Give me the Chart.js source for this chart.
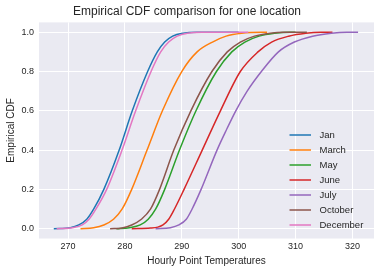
<!DOCTYPE html>
<html><head><meta charset="utf-8">
<script src="https://cdn.jsdelivr.net/npm/chart.js@4/dist/chart.umd.min.js"></script>
<style>html,body{margin:0;padding:0;background:#fff;}</style>
</head><body>
<canvas id="c" width="380" height="274"></canvas>
<script>
const categories = ['Jan','March','May','June','July','October','December'];
const seriesColors = ['#1f77b4','#ff7f0e','#2ca02c','#d62728','#9467bd','#8c564b','#e377c2'];

const janTemps = [267.5,270.4,271.9,273.3,274.5,276.3,279.0,281.3,284.0,285.7,287.0,288.4,290.2,292.7,300.0];
const janCdf   = [0,0.005,0.019,0.048,0.099,0.2,0.4,0.6,0.8,0.9,0.95,0.98,0.995,1,1];

const marchTemps = [272.2,274.5,276.3,278.0,279.5,281.2,283.9,286.6,290.0,292.7,295.4,297.8,300.5,304.0,305.0];
const marchCdf   = [0,0.005,0.019,0.048,0.099,0.2,0.4,0.6,0.8,0.9,0.95,0.98,0.995,1,1];

const mayTemps = [278.5,280.8,282.7,284.1,285.4,287.0,289.6,292.5,296.1,298.8,301.1,303.6,306.3,309.0,310.0];
const mayCdf   = [0,0.005,0.019,0.048,0.099,0.2,0.4,0.6,0.8,0.9,0.95,0.98,0.995,1,1];

const juneTemps = [281.2,284.5,285.8,286.7,287.7,288.7,290.4,293.6,296.8,300.3,303.4,305.8,308.8,311.8,314.5,316.5];
const juneCdf   = [0,0.003,0.008,0.019,0.048,0.099,0.2,0.4,0.6,0.8,0.9,0.95,0.98,0.995,1,1];

const julyTemps = [285.4,288.0,289.5,290.8,291.8,293.4,296.2,297.8,299.5,301.5,304.0,307.0,309.8,313.0,316.3,319.0,321.0];
const julyCdf   = [0,0.005,0.019,0.048,0.099,0.2,0.4,0.5,0.6,0.7,0.8,0.9,0.95,0.98,0.995,1,1];

const octoberTemps = [277.4,279.5,281.2,282.9,284.5,286.1,288.6,291.6,295.3,298.0,300.3,302.8,305.5,308.0,312.0];
const octoberCdf   = [0,0.004,0.019,0.048,0.099,0.2,0.4,0.6,0.8,0.9,0.95,0.98,0.995,1,1];

const decemberTemps = [268.0,270.8,272.5,273.7,274.9,276.8,279.5,281.9,284.6,286.3,287.7,289.2,291.0,293.5,301.7];
const decemberCdf   = [0,0.005,0.019,0.048,0.099,0.2,0.4,0.6,0.8,0.9,0.95,0.98,0.995,1,1];

const xTickValues = [270,280,290,300,310,320];
const yTickValues = [0,0.2,0.4,0.6,0.8,1.0];

const allTemps = [janTemps, marchTemps, mayTemps, juneTemps, julyTemps, octoberTemps, decemberTemps];
const allCdf = [janCdf, marchCdf, mayCdf, juneCdf, julyCdf, octoberCdf, decemberCdf];

const FONT = "'Liberation Sans', Arial, sans-serif";
const TXT = '#262626';

const datasets = categories.map((name, i) => ({
  label: name,
  data: allTemps[i].map((t, j) => ({x: t, y: allCdf[i][j]})),
  borderColor: seriesColors[i],
  backgroundColor: seriesColors[i],
  borderWidth: 1.5,
  pointRadius: 0,
  fill: false,
  cubicInterpolationMode: 'monotone',
  order: categories.length - i
}));

const bgPlugin = {
  id: 'bg',
  beforeDraw(chart) {
    const {ctx, chartArea: a} = chart;
    ctx.save();
    ctx.fillStyle = '#ffffff';
    ctx.fillRect(0, 0, chart.width, chart.height);
    ctx.fillStyle = '#EAEAF2';
    ctx.fillRect(a.left, a.top, a.right - a.left, a.bottom - a.top);
    ctx.restore();
  }
};

const legendPlugin = {
  id: 'innerLegend',
  afterDraw(chart) {
    const {ctx, chartArea: a} = chart;
    ctx.save();
    ctx.font = "9.5px " + FONT;
    ctx.textBaseline = 'middle';
    ctx.textAlign = 'left';
    chart.data.datasets.forEach((ds, i) => {
      const y = a.bottom - 103.5 + i * 15;
      ctx.strokeStyle = ds.borderColor;
      ctx.lineWidth = 1.5;
      ctx.beginPath();
      ctx.moveTo(a.right - 84.5, y);
      ctx.lineTo(a.right - 63, y);
      ctx.stroke();
      ctx.fillStyle = TXT;
      ctx.fillText(ds.label, a.right - 54.5, y + 0.5);
    });
    ctx.restore();
  }
};

new Chart(document.getElementById('c'), {
  type: 'line',
  data: {datasets},
  plugins: [bgPlugin, legendPlugin],
  options: {
    responsive: false,
    animation: false,
    devicePixelRatio: 1,
    layout: {padding: {left: 0, right: 6, top: 0, bottom: 0}},
    plugins: {
      legend: {display: false},
      tooltip: {enabled: false},
      title: {
        display: true,
        text: 'Empirical CDF comparison for one location',
        color: TXT,
        font: {family: FONT, size: 12, weight: 'normal'},
        padding: {top: 4, bottom: 4}
      }
    },
    scales: {
      x: {
        type: 'linear',
        min: 264.9, max: 323.8,
        afterBuildTicks: s => { s.ticks = xTickValues.map(v => ({value: v})); },
        afterFit: s => { s.height = 35.5; },
        grid: {color: '#ffffff', lineWidth: 1, drawTicks: false},
        border: {display: false},
        ticks: {color: TXT, font: {family: FONT, size: 9}, padding: 3, callback: v => String(v)},
        title: {display: true, text: 'Hourly Point Temperatures', color: TXT,
                font: {family: FONT, size: 10}, padding: {top: 0, bottom: 7}}
      },
      y: {
        type: 'linear',
        min: -0.05, max: 1.05,
        afterBuildTicks: s => { s.ticks = yTickValues.map(v => ({value: v})); },
        afterFit: s => { s.width = 39; },
        grid: {color: '#ffffff', lineWidth: 1, drawTicks: false},
        border: {display: false},
        ticks: {color: TXT, font: {family: FONT, size: 9}, padding: 5, callback: v => Number(v).toFixed(1)},
        title: {display: true, text: 'Empirical CDF', color: TXT,
                font: {family: FONT, size: 10}, padding: {top: 5, bottom: 0}}
      }
    }
  }
});
</script>
</body></html>
